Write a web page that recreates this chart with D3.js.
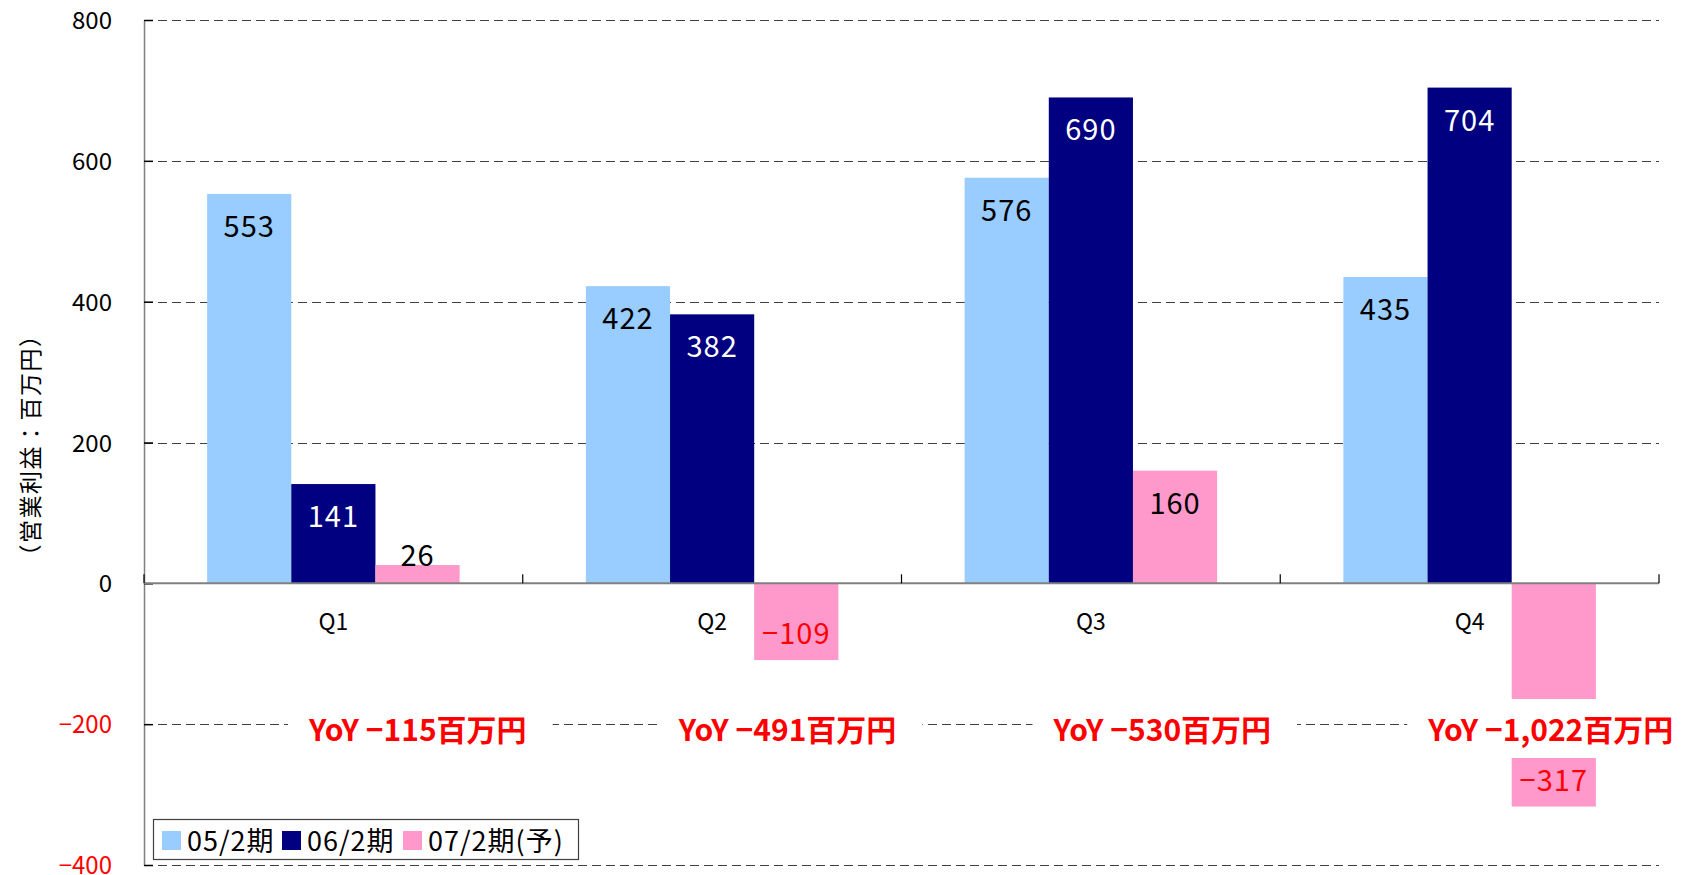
<!DOCTYPE html>
<html>
<head>
<meta charset="utf-8">
<script src="https://cdn.jsdelivr.net/npm/d3@7"></script>
<style>
  body { margin: 0; background: #fff; }
  text { font-family: "Noto Sans CJK JP", "Noto Sans", sans-serif; }
</style>
</head>
<body>
<div id="chart"></div>
<script>
// data
var quarters = ["Q1", "Q2", "Q3", "Q4"];
var seriesNames = ["05/2期", "06/2期", "07/2期(予)"];
var fy05 = [553, 422, 576, 435];
var fy06 = [141, 382, 690, 704];
var fy07 = [26, -109, 160, -317];
var yoyLabels = ["YoY −115百万円", "YoY −491百万円", "YoY −530百万円", "YoY −1,022百万円"];
var yTicks = [-400, -200, 0, 200, 400, 600, 800];

var colors = ["#99CCFF", "#000080", "#FF99CC"];

var svgWidth = 1682;
var svgHeight = 875;
var plot = { left: 144, right: 1659, top: 20, bottom: 865 };

// label x offsets (from band start) for the YoY boxes
var yoyDx = [165, 156, 152, 148];

var svg = d3.select("#chart")
  .append("svg")
  .attr("width", svgWidth)
  .attr("height", svgHeight);

var x = d3.scaleBand()
  .domain(quarters)
  .range([plot.left, plot.right])
  .padding(0);

var xInner = d3.scaleBand()
  .domain(d3.range(3))
  .range([0, x.bandwidth()])
  .paddingInner(0)
  .paddingOuter(0.75);

var y = d3.scaleLinear()
  .domain([-400, 800])
  .range([plot.bottom, plot.top]);

// gridlines
svg.append("g")
  .selectAll("line")
  .data(yTicks.filter(d => d !== 0))
  .enter()
  .append("line")
  .attr("x1", plot.left)
  .attr("x2", plot.right)
  .attr("y1", d => Math.round(y(d)) + 0.5)
  .attr("y2", d => Math.round(y(d)) + 0.5)
  .attr("stroke", "#404040")
  .attr("stroke-width", 1)
  .attr("stroke-dasharray", "9,5");

// bars
var table = [];
quarters.forEach(function(q, i) {
  [fy05, fy06, fy07].forEach(function(arr, s) {
    table.push({ q: q, s: s, v: arr[i] });
  });
});

svg.append("g")
  .selectAll("rect")
  .data(table)
  .enter()
  .append("rect")
  .attr("x", d => x(d.q) + xInner(d.s))
  .attr("width", xInner.bandwidth())
  .attr("y", d => y(Math.max(0, d.v)))
  .attr("height", d => Math.abs(y(d.v) - y(0)))
  .attr("fill", d => colors[d.s]);

// y axis
var leftAxis = d3.axisLeft(y).tickValues(yTicks).tickSize(0).tickPadding(32);
var yAxisG = svg.append("g")
  .attr("transform", `translate(${plot.left}, 0)`)
  .call(leftAxis);
yAxisG.select(".domain").attr("stroke", "#808080").attr("stroke-width", 1.5);
yAxisG.selectAll(".tick text")
  .attr("font-size", 24)
  .attr("font-family", "Noto Sans CJK JP")
  .attr("dy", "0.36em")
  .attr("fill", d => d < 0 ? "#FF0000" : "#000");
yAxisG.selectAll(".tick")
  .append("line")
  .attr("x1", 0)
  .attr("x2", 9)
  .attr("stroke", "#000")
  .attr("stroke-width", 1.5);

// x axis line at zero
var zeroY = y(0);
svg.append("line")
  .attr("x1", plot.left)
  .attr("x2", plot.right)
  .attr("y1", zeroY)
  .attr("y2", zeroY)
  .attr("stroke", "#808080")
  .attr("stroke-width", 2);

var bounds = quarters.map(q => x(q)).concat([plot.right]);
svg.append("g")
  .selectAll("line")
  .data(bounds)
  .enter()
  .append("line")
  .attr("x1", d => d)
  .attr("x2", d => d)
  .attr("y1", zeroY)
  .attr("y2", zeroY - 9)
  .attr("stroke", "#000")
  .attr("stroke-width", 1.2);

svg.append("g")
  .selectAll("text")
  .data(quarters)
  .enter()
  .append("text")
  .attr("x", d => x(d) + x.bandwidth() / 2)
  .attr("y", 630)
  .attr("text-anchor", "middle")
  .attr("font-size", 23)
  .text(d => d);

// y axis title
svg.append("text")
  .attr("transform", "translate(31, 445) rotate(-90)")
  .attr("text-anchor", "middle")
  .attr("dy", "0.36em")
  .attr("font-size", 23)
  .attr("letter-spacing", 1.5)
  .text("（営業利益：百万円）");

// YoY boxes
var yoy = svg.append("g")
  .selectAll("g")
  .data(yoyLabels)
  .enter()
  .append("g");

yoy.append("text")
  .attr("x", (d, i) => x(quarters[i]) + yoyDx[i])
  .attr("y", 741)
  .attr("font-size", 30)
  .attr("font-weight", "bold")
  .attr("fill", "#FF0000")
  .text(d => d);

yoy.each(function() {
  var g = d3.select(this);
  var bb = g.select("text").node().getBBox();
  g.insert("rect", "text")
    .attr("x", bb.x - 20)
    .attr("y", 699)
    .attr("width", bb.width + 46)
    .attr("height", 59)
    .attr("fill", "#fff");
});

// value labels
svg.append("g")
  .selectAll("text")
  .data(table)
  .enter()
  .append("text")
  .attr("x", d => x(d.q) + xInner(d.s) + xInner.bandwidth() / 2)
  .attr("y", function(d) {
    var h = Math.abs(y(d.v) - zeroY);
    if (d.v < 0) return y(d.v) - 16;
    return h > 40 ? y(d.v) + 43 : y(d.v) + 1;
  })
  .attr("text-anchor", "middle")
  .attr("font-size", 29)
  .attr("letter-spacing", 1)
  .attr("fill", function(d) {
    if (d.s === 1) return "#fff";
    if (d.v < 0) return "#FF0000";
    return "#000";
  })
  .text(d => d.v < 0 ? "−" + Math.abs(d.v) : d.v);

// legend
var legend = svg.append("g");
legend.append("rect")
  .attr("x", 153.5)
  .attr("y", 819.5)
  .attr("width", 425)
  .attr("height", 40)
  .attr("fill", "#fff")
  .attr("stroke", "#404040")
  .attr("stroke-width", 1.2);

var legendX = [162, 282, 403];
var items = legend.selectAll("g.item")
  .data(seriesNames)
  .enter()
  .append("g")
  .attr("class", "item")
  .attr("transform", (d, i) => `translate(${legendX[i]}, 831)`);

items.append("rect")
  .attr("width", 19)
  .attr("height", 19)
  .attr("fill", (d, i) => colors[i]);

items.append("text")
  .attr("x", 25)
  .attr("y", 19.5)
  .attr("font-size", 27)
  .attr("letter-spacing", 1)
  .text(d => d);
</script>
</body>
</html>
